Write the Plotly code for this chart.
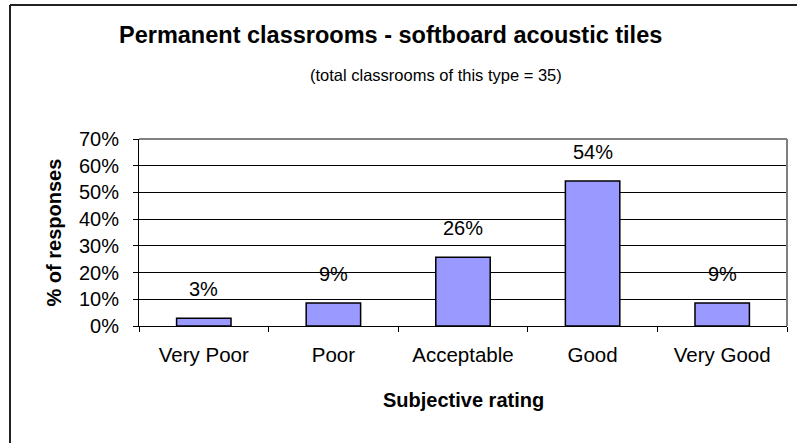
import plotly.graph_objects as go

categories = ["Very Poor", "Poor", "Acceptable", "Good", "Very Good"]
values = [0.0286, 0.0857, 0.2571, 0.5429, 0.0857]
labels = ["3%", "9%", "26%", "54%", "9%"]
y_ticks = [0, 0.1, 0.2, 0.3, 0.4, 0.5, 0.6, 0.7]
y_tick_labels = ["0%", "10%", "20%", "30%", "40%", "50%", "60%", "70%"]

FONT = "Liberation Sans, Arial, sans-serif"
W, H = 797, 443
L, R, T, B = 139, 10, 139, 117
PW, PH = W - L - R, H - T - B

def px_x(px):
    return (px - L) / PW

def px_y(py):
    return (H - B - py) / PH

fig = go.Figure()
fig.add_trace(go.Bar(
    x=categories, y=values,
    marker=dict(color="#9999FF", line=dict(color="black", width=1.5)),
    hoverinfo="skip",
))

annotations = []
for c, v, t in zip(categories, values, labels):
    annotations.append(dict(x=c, y=v, xref="x", yref="y", text=t, showarrow=False,
                            yanchor="bottom", yshift=16,
                            font=dict(family=FONT, size=20, color="black")))

annotations += [
    dict(text="<b>Permanent classrooms - softboard acoustic tiles</b>", x=px_x(390), y=px_y(35),
         xref="paper", yref="paper", showarrow=False, xanchor="center", yanchor="middle",
         font=dict(family=FONT, size=23.5, color="black")),
    dict(text="(total classrooms of this type = 35)", x=px_x(436), y=px_y(75),
         xref="paper", yref="paper", showarrow=False, xanchor="center", yanchor="middle",
         font=dict(family=FONT, size=16.5, color="black")),
    dict(text="<b>% of responses</b>", x=px_x(53), y=0.5, textangle=-90,
         xref="paper", yref="paper", showarrow=False, xanchor="center", yanchor="middle",
         font=dict(family=FONT, size=20, color="black")),
    dict(text="<b>Subjective rating</b>", x=0.5, y=px_y(400),
         xref="paper", yref="paper", showarrow=False, xanchor="center", yanchor="middle",
         font=dict(family=FONT, size=20, color="black")),
]

shapes = [
    # outer chart border: top and left edges visible
    dict(type="line", xref="paper", yref="paper", x0=px_x(10), x1=px_x(800),
         y0=px_y(5), y1=px_y(5), line=dict(color="#222222", width=2), layer="above"),
    dict(type="line", xref="paper", yref="paper", x0=px_x(10), x1=px_x(10),
         y0=px_y(5), y1=px_y(450), line=dict(color="#222222", width=2), layer="above"),
    # plot area border top and right (gray)
    dict(type="line", xref="paper", yref="paper", x0=0, x1=1, y0=1, y1=1,
         line=dict(color="#808080", width=2)),
    dict(type="line", xref="paper", yref="paper", x0=1, x1=1, y0=0, y1=1,
         line=dict(color="#808080", width=2)),
]

fig.update_layout(
    width=W, height=H,
    margin=dict(l=L, r=R, t=T, b=B),
    paper_bgcolor="white", plot_bgcolor="white",
    showlegend=False,
    bargap=0.58,
    font=dict(family=FONT, size=20, color="black"),
    annotations=annotations,
    shapes=shapes,
    xaxis=dict(
        type="category", tickson="boundaries", ticks="outside", ticklen=5,
        tickcolor="black", showline=True, linecolor="black", linewidth=1,
        showgrid=False, tickfont=dict(family=FONT, size=20.5, color="black"),
        ticklabelstandoff=10,
    ),
    yaxis=dict(
        range=[0, 0.7], tickvals=y_ticks, ticktext=y_tick_labels,
        ticks="outside", ticklen=5, tickcolor="black",
        showline=True, linecolor="black", linewidth=1,
        showgrid=True, gridcolor="black", gridwidth=1, zeroline=False,
        tickfont=dict(family=FONT, size=20, color="black"),
        ticklabelstandoff=10,
    ),
)

fig.write_html("out.html", config={"displayModeBar": False, "staticPlot": True},
               post_script="document.body.style.margin='0';document.body.style.overflow='hidden';")
